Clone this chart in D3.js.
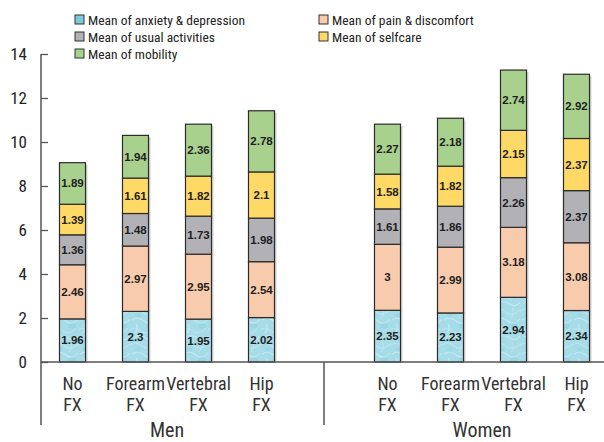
<!DOCTYPE html>
<html><head><meta charset="utf-8">
<script src="https://cdn.jsdelivr.net/npm/d3@7/dist/d3.min.js"></script>
<style>
body{margin:0;background:#fff;}
svg{display:block;}
</style></head>
<body>
<svg id="chart" width="604" height="442"></svg>
<script>
// ---------- DATA ----------
const groups = ["Men", "Women"];
const categories = ["No FX", "Forearm FX", "Vertebral FX", "Hip FX"];
const categoryLines = [["No","FX"],["Forearm","FX"],["Vertebral","FX"],["Hip","FX"]];
const seriesNames = ["Mean of anxiety & depression","Mean of pain & discomfort","Mean of usual activities","Mean of selfcare","Mean of mobility"];
const anxiety   = [1.96, 2.3, 1.95, 2.02, 2.35, 2.23, 2.94, 2.34];
const pain      = [2.46, 2.97, 2.95, 2.54, 3, 2.99, 3.18, 3.08];
const usual     = [1.36, 1.48, 1.73, 1.98, 1.61, 1.86, 2.26, 2.37];
const selfcare  = [1.39, 1.61, 1.82, 2.1, 1.58, 1.82, 2.15, 2.37];
const mobility  = [1.89, 1.94, 2.36, 2.78, 2.27, 2.18, 2.74, 2.92];
const yTicks = [0, 2, 4, 6, 8, 10, 12, 14];

const seriesValues = [anxiety, pain, usual, selfcare, mobility];
const colors = ["url(#water)", "#f8cbad", "#b1b1b6", "#ffd966", "#a9d18e"];
const legendColors = ["#7fc9dc", "#f8cbad", "#b1b1b6", "#ffd966", "#a9d18e"];

// ---------- SETUP ----------
const svg = d3.select("#chart");
const font = "'Liberation Sans Narrow','Arial Narrow','Roboto Condensed',sans-serif";

const slots = [];
groups.forEach((g, gi) => {
  categories.forEach(c => slots.push(g + "|" + c));
  if (gi === 0) slots.push("gap");
});
const x = d3.scaleBand().domain(slots).range([41, 608]).paddingInner(0.587).paddingOuter(0.2935);
const y = d3.scaleLinear().domain([0, 14]).range([362, 54]);

// pattern for water texture
const defs = svg.append("defs");
const pat = defs.append("pattern").attr("id", "water").attr("patternUnits", "userSpaceOnUse")
  .attr("width", 26).attr("height", 34).attr("x", 0).attr("y", 0);
pat.append("rect").attr("width", 26).attr("height", 34).attr("fill", "#a6dce8");
const strokes = [
  "M0,5 Q6,1 12,6 T26,4", "M2,14 Q8,10 14,15 T26,13", "M0,24 Q5,20 11,25 T24,22",
  "M4,31 Q10,28 16,32 T26,30", "M18,2 Q21,8 17,12", "M6,18 Q9,22 5,27"
];
strokes.forEach((d, i) => pat.append("path").attr("d", d).attr("fill", "none")
  .attr("stroke", i % 2 ? "#d2eff5" : "#c2e8f0").attr("stroke-width", 1.1).attr("opacity", 0.7));
pat.append("ellipse").attr("cx", 20).attr("cy", 20).attr("rx", 4).attr("ry", 2.5).attr("fill", "#8ccfe0").attr("opacity", 0.5);
pat.append("ellipse").attr("cx", 8).attr("cy", 9).attr("rx", 3).attr("ry", 2).attr("fill", "#8ccfe0").attr("opacity", 0.4);

// stacked data
const rows = slots.filter(s => s !== "gap").map((s, i) => {
  const r = { key: s };
  seriesNames.forEach((n, k) => r[n] = seriesValues[k][i]);
  return r;
});
const stack = d3.stack().keys(seriesNames)(rows);

// shadows
svg.append("g").selectAll("rect").data(rows).join("rect")
  .attr("x", d => x(d.key) + 2).attr("width", x.bandwidth())
  .attr("y", d => y(d3.sum(seriesNames, n => d[n])) + 2)
  .attr("height", d => y(0) - y(d3.sum(seriesNames, n => d[n])) - 2)
  .attr("fill", "#d5d5d5");

// bars
const layer = svg.append("g").selectAll("g").data(stack).join("g")
  .attr("fill", (d, i) => colors[i]);
layer.selectAll("rect").data(d => d).join("rect")
  .attr("x", d => x(d.data.key)).attr("width", x.bandwidth())
  .attr("y", d => y(d[1])).attr("height", d => y(d[0]) - y(d[1]))
  .attr("stroke", "#2b2b2b").attr("stroke-width", 1.2);

// value labels
const lbl = svg.append("g").attr("font-family", "'Liberation Sans',Arial,sans-serif")
  .attr("font-weight", "bold").attr("font-size", 11.5).attr("fill", "#1e1e1e").attr("text-anchor", "middle");
stack.forEach(s => {
  s.forEach(d => {
    lbl.append("text").attr("x", x(d.data.key) + x.bandwidth() / 2)
      .attr("y", (y(d[0]) + y(d[1])) / 2 + 4).text(String(d.data[s.key]));
  });
});

// axes
const axisColor = "#555";
svg.append("line").attr("x1", 41).attr("x2", 41).attr("y1", y(14)).attr("y2", 425)
  .attr("stroke", axisColor).attr("stroke-width", 1.5);
svg.append("line").attr("x1", 41).attr("x2", 604).attr("y1", y(0)).attr("y2", y(0))
  .attr("stroke", axisColor).attr("stroke-width", 1.5);
svg.append("line").attr("x1", 324).attr("x2", 324).attr("y1", y(0)).attr("y2", 425)
  .attr("stroke", axisColor).attr("stroke-width", 1.5);

const yAxis = svg.append("g").attr("transform", "translate(41,0)")
  .call(d3.axisRight(y).tickValues(yTicks).tickSize(7).tickFormat(""));
yAxis.select(".domain").remove();
yAxis.selectAll("line").attr("stroke", axisColor).attr("stroke-width", 1.3);
svg.append("g").selectAll("text").data(yTicks).join("text")
  .attr("x", 27).attr("y", d => y(d) + 6).attr("text-anchor", "end")
  .attr("font-family", font).attr("font-size", 17).attr("fill", "#222").text(d => d);

// category labels
const cl = svg.append("g").attr("font-family", font).attr("font-size", 18).attr("fill", "#333").attr("text-anchor", "middle");
rows.forEach((r, i) => {
  const lines = categoryLines[i % 4];
  const cx = x(r.key) + x.bandwidth() / 2;
  lines.forEach((t, li) => cl.append("text").attr("x", cx).attr("y", 390 + li * 21).text(t));
});
// group labels
groups.forEach((g, gi) => {
  const keys = categories.map(c => g + "|" + c);
  const cx = (x(keys[0]) + x(keys[3]) + x.bandwidth()) / 2;
  svg.append("text").attr("x", cx).attr("y", 437).attr("text-anchor", "middle")
    .attr("font-family", font).attr("font-size", 20).attr("fill", "#333").text(g);
});

// legend
const legendPos = [[75, 15], [319, 15], [75, 32], [319, 32], [75, 49]];
const lg = svg.append("g");
seriesNames.forEach((name, k) => {
  const [lx, ly] = legendPos[k];
  lg.append("rect").attr("x", lx).attr("y", ly).attr("width", 9).attr("height", 9)
    .attr("fill", legendColors[k]).attr("stroke", "#333").attr("stroke-width", 1);
  lg.append("text").attr("x", lx + 13).attr("y", ly + 9.5).attr("font-family", font)
    .attr("font-size", 13.5).attr("fill", "#222").text(name);
});
</script>
</body></html>
